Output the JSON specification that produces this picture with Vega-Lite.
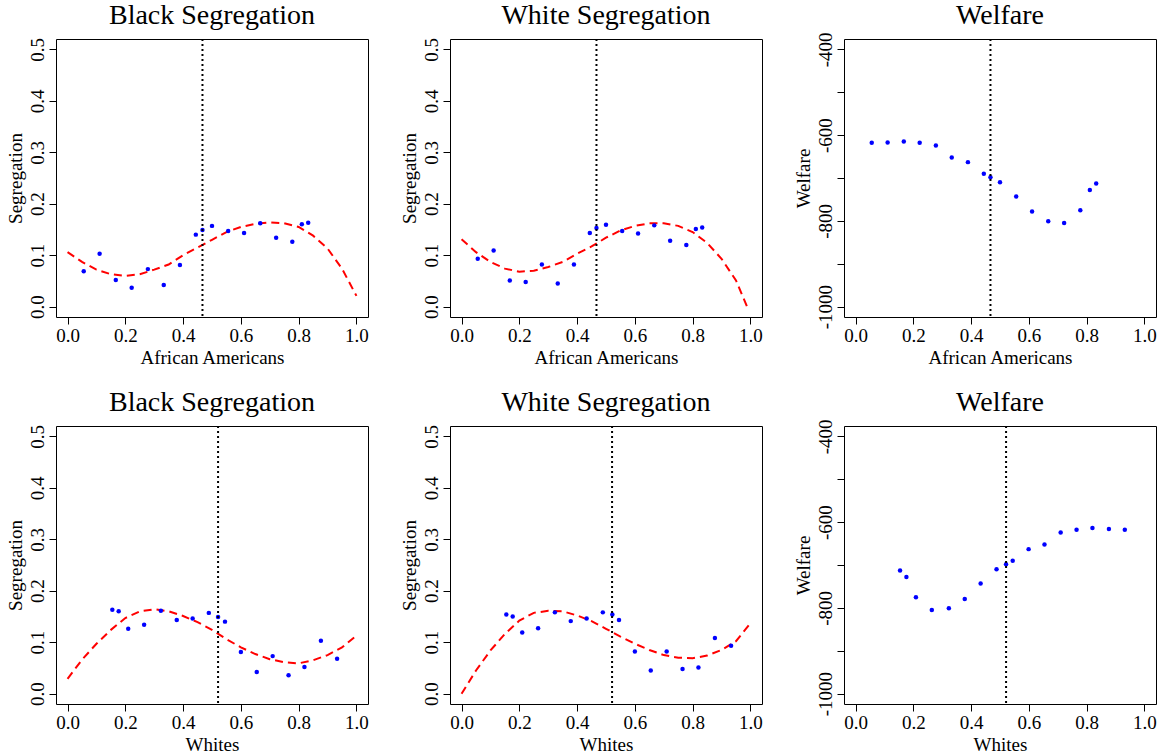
{
  "$schema": "https://vega.github.io/schema/vega-lite/v6.json",
  "background": "white",
  "padding": {"left": 5, "top": 1, "right": 4, "bottom": 0},
  "bounds": "flush",
  "columns": 3,
  "spacing": {"row": 109, "column": 82},
  "datasets": {
    "points": [
      {"p": 1, "x": 0.056, "y": 0.069}, {"p": 1, "x": 0.111, "y": 0.103}, {"p": 1, "x": 0.167, "y": 0.052}, {"p": 1, "x": 0.222, "y": 0.037}, {"p": 1, "x": 0.278, "y": 0.073}, {"p": 1, "x": 0.333, "y": 0.042}, {"p": 1, "x": 0.389, "y": 0.081}, {"p": 1, "x": 0.444, "y": 0.140}, {"p": 1, "x": 0.467, "y": 0.149}, {"p": 1, "x": 0.500, "y": 0.157}, {"p": 1, "x": 0.556, "y": 0.147}, {"p": 1, "x": 0.611, "y": 0.143}, {"p": 1, "x": 0.667, "y": 0.162}, {"p": 1, "x": 0.722, "y": 0.134}, {"p": 1, "x": 0.778, "y": 0.126}, {"p": 1, "x": 0.811, "y": 0.160}, {"p": 1, "x": 0.833, "y": 0.163},
      {"p": 2, "x": 0.056, "y": 0.093}, {"p": 2, "x": 0.111, "y": 0.109}, {"p": 2, "x": 0.167, "y": 0.051}, {"p": 2, "x": 0.222, "y": 0.048}, {"p": 2, "x": 0.278, "y": 0.082}, {"p": 2, "x": 0.333, "y": 0.045}, {"p": 2, "x": 0.389, "y": 0.082}, {"p": 2, "x": 0.444, "y": 0.143}, {"p": 2, "x": 0.467, "y": 0.153}, {"p": 2, "x": 0.500, "y": 0.159}, {"p": 2, "x": 0.556, "y": 0.147}, {"p": 2, "x": 0.611, "y": 0.142}, {"p": 2, "x": 0.667, "y": 0.158}, {"p": 2, "x": 0.722, "y": 0.128}, {"p": 2, "x": 0.778, "y": 0.120}, {"p": 2, "x": 0.811, "y": 0.151}, {"p": 2, "x": 0.833, "y": 0.154},
      {"p": 3, "x": 0.056, "y": -618}, {"p": 3, "x": 0.111, "y": -617}, {"p": 3, "x": 0.167, "y": -615}, {"p": 3, "x": 0.222, "y": -618}, {"p": 3, "x": 0.278, "y": -624}, {"p": 3, "x": 0.333, "y": -652}, {"p": 3, "x": 0.389, "y": -663}, {"p": 3, "x": 0.444, "y": -690}, {"p": 3, "x": 0.467, "y": -698}, {"p": 3, "x": 0.500, "y": -710}, {"p": 3, "x": 0.556, "y": -743}, {"p": 3, "x": 0.611, "y": -778}, {"p": 3, "x": 0.667, "y": -801}, {"p": 3, "x": 0.722, "y": -805}, {"p": 3, "x": 0.778, "y": -775}, {"p": 3, "x": 0.811, "y": -728}, {"p": 3, "x": 0.833, "y": -713},
      {"p": 4, "x": 0.155, "y": 0.163}, {"p": 4, "x": 0.177, "y": 0.160}, {"p": 4, "x": 0.210, "y": 0.126}, {"p": 4, "x": 0.265, "y": 0.134}, {"p": 4, "x": 0.323, "y": 0.161}, {"p": 4, "x": 0.378, "y": 0.143}, {"p": 4, "x": 0.433, "y": 0.146}, {"p": 4, "x": 0.489, "y": 0.157}, {"p": 4, "x": 0.521, "y": 0.149}, {"p": 4, "x": 0.545, "y": 0.140}, {"p": 4, "x": 0.600, "y": 0.081}, {"p": 4, "x": 0.655, "y": 0.042}, {"p": 4, "x": 0.710, "y": 0.073}, {"p": 4, "x": 0.765, "y": 0.036}, {"p": 4, "x": 0.820, "y": 0.052}, {"p": 4, "x": 0.877, "y": 0.103}, {"p": 4, "x": 0.933, "y": 0.068},
      {"p": 5, "x": 0.155, "y": 0.154}, {"p": 5, "x": 0.177, "y": 0.150}, {"p": 5, "x": 0.210, "y": 0.119}, {"p": 5, "x": 0.265, "y": 0.127}, {"p": 5, "x": 0.323, "y": 0.158}, {"p": 5, "x": 0.378, "y": 0.141}, {"p": 5, "x": 0.433, "y": 0.146}, {"p": 5, "x": 0.489, "y": 0.158}, {"p": 5, "x": 0.522, "y": 0.154}, {"p": 5, "x": 0.545, "y": 0.143}, {"p": 5, "x": 0.600, "y": 0.082}, {"p": 5, "x": 0.655, "y": 0.045}, {"p": 5, "x": 0.710, "y": 0.082}, {"p": 5, "x": 0.765, "y": 0.048}, {"p": 5, "x": 0.820, "y": 0.051}, {"p": 5, "x": 0.877, "y": 0.108}, {"p": 5, "x": 0.933, "y": 0.093},
      {"p": 6, "x": 0.154, "y": -713}, {"p": 6, "x": 0.176, "y": -728}, {"p": 6, "x": 0.209, "y": -775}, {"p": 6, "x": 0.264, "y": -805}, {"p": 6, "x": 0.323, "y": -801}, {"p": 6, "x": 0.378, "y": -779}, {"p": 6, "x": 0.433, "y": -743}, {"p": 6, "x": 0.488, "y": -710}, {"p": 6, "x": 0.521, "y": -698}, {"p": 6, "x": 0.544, "y": -690}, {"p": 6, "x": 0.599, "y": -663}, {"p": 6, "x": 0.654, "y": -652}, {"p": 6, "x": 0.710, "y": -624}, {"p": 6, "x": 0.765, "y": -618}, {"p": 6, "x": 0.820, "y": -614}, {"p": 6, "x": 0.877, "y": -616}, {"p": 6, "x": 0.932, "y": -618}
    ],
    "curves": [
      {"p": 1, "x": 0.00, "y": 0.106}, {"p": 1, "x": 0.05, "y": 0.087}, {"p": 1, "x": 0.10, "y": 0.072}, {"p": 1, "x": 0.15, "y": 0.063}, {"p": 1, "x": 0.20, "y": 0.060}, {"p": 1, "x": 0.25, "y": 0.063}, {"p": 1, "x": 0.30, "y": 0.072}, {"p": 1, "x": 0.35, "y": 0.082}, {"p": 1, "x": 0.40, "y": 0.100}, {"p": 1, "x": 0.45, "y": 0.115}, {"p": 1, "x": 0.50, "y": 0.130}, {"p": 1, "x": 0.55, "y": 0.145}, {"p": 1, "x": 0.60, "y": 0.155}, {"p": 1, "x": 0.65, "y": 0.161}, {"p": 1, "x": 0.70, "y": 0.164}, {"p": 1, "x": 0.75, "y": 0.162}, {"p": 1, "x": 0.80, "y": 0.155}, {"p": 1, "x": 0.85, "y": 0.138}, {"p": 1, "x": 0.90, "y": 0.113}, {"p": 1, "x": 0.95, "y": 0.074}, {"p": 1, "x": 1.00, "y": 0.021},
      {"p": 2, "x": 0.00, "y": 0.131}, {"p": 2, "x": 0.05, "y": 0.106}, {"p": 2, "x": 0.10, "y": 0.087}, {"p": 2, "x": 0.15, "y": 0.074}, {"p": 2, "x": 0.20, "y": 0.068}, {"p": 2, "x": 0.25, "y": 0.070}, {"p": 2, "x": 0.30, "y": 0.077}, {"p": 2, "x": 0.35, "y": 0.087}, {"p": 2, "x": 0.40, "y": 0.103}, {"p": 2, "x": 0.45, "y": 0.117}, {"p": 2, "x": 0.50, "y": 0.134}, {"p": 2, "x": 0.55, "y": 0.148}, {"p": 2, "x": 0.60, "y": 0.157}, {"p": 2, "x": 0.65, "y": 0.162}, {"p": 2, "x": 0.70, "y": 0.162}, {"p": 2, "x": 0.75, "y": 0.157}, {"p": 2, "x": 0.80, "y": 0.145}, {"p": 2, "x": 0.85, "y": 0.124}, {"p": 2, "x": 0.90, "y": 0.093}, {"p": 2, "x": 0.95, "y": 0.051}, {"p": 2, "x": 0.99, "y": -0.002},
      {"p": 4, "x": 0.00, "y": 0.029}, {"p": 4, "x": 0.05, "y": 0.066}, {"p": 4, "x": 0.10, "y": 0.097}, {"p": 4, "x": 0.15, "y": 0.124}, {"p": 4, "x": 0.20, "y": 0.147}, {"p": 4, "x": 0.25, "y": 0.160}, {"p": 4, "x": 0.30, "y": 0.164}, {"p": 4, "x": 0.35, "y": 0.160}, {"p": 4, "x": 0.40, "y": 0.151}, {"p": 4, "x": 0.45, "y": 0.139}, {"p": 4, "x": 0.50, "y": 0.124}, {"p": 4, "x": 0.55, "y": 0.106}, {"p": 4, "x": 0.60, "y": 0.090}, {"p": 4, "x": 0.65, "y": 0.077}, {"p": 4, "x": 0.70, "y": 0.067}, {"p": 4, "x": 0.75, "y": 0.061}, {"p": 4, "x": 0.80, "y": 0.059}, {"p": 4, "x": 0.85, "y": 0.065}, {"p": 4, "x": 0.90, "y": 0.075}, {"p": 4, "x": 0.95, "y": 0.090}, {"p": 4, "x": 1.00, "y": 0.113},
      {"p": 5, "x": 0.00, "y": 0.000}, {"p": 5, "x": 0.05, "y": 0.045}, {"p": 5, "x": 0.10, "y": 0.084}, {"p": 5, "x": 0.15, "y": 0.116}, {"p": 5, "x": 0.20, "y": 0.142}, {"p": 5, "x": 0.25, "y": 0.157}, {"p": 5, "x": 0.30, "y": 0.161}, {"p": 5, "x": 0.35, "y": 0.160}, {"p": 5, "x": 0.40, "y": 0.152}, {"p": 5, "x": 0.45, "y": 0.141}, {"p": 5, "x": 0.50, "y": 0.126}, {"p": 5, "x": 0.55, "y": 0.111}, {"p": 5, "x": 0.60, "y": 0.097}, {"p": 5, "x": 0.65, "y": 0.085}, {"p": 5, "x": 0.70, "y": 0.075}, {"p": 5, "x": 0.75, "y": 0.070}, {"p": 5, "x": 0.80, "y": 0.069}, {"p": 5, "x": 0.85, "y": 0.074}, {"p": 5, "x": 0.90, "y": 0.085}, {"p": 5, "x": 0.95, "y": 0.102}, {"p": 5, "x": 1.00, "y": 0.137}
    ],
    "cutoffs": [
      {"p": 1, "x": 0.467}, {"p": 2, "x": 0.467}, {"p": 3, "x": 0.467},
      {"p": 4, "x": 0.521}, {"p": 5, "x": 0.521}, {"p": 6, "x": 0.521}
    ]
  },
  "config": {
    "view": {"stroke": "black", "strokeWidth": 1},
    "font": "Liberation Serif",
    "style": {
      "guide-label": {"font": "Liberation Serif", "fontSize": 19, "fill": "black"},
      "guide-title": {"font": "Liberation Serif", "fontSize": 19, "fill": "black", "fontWeight": "normal"},
      "group-title": {"font": "Liberation Serif", "fontSize": 28, "fill": "black", "fontWeight": "normal"}
    },
    "title": {"font": "Liberation Serif", "fontSize": 28, "fontWeight": "normal", "color": "black"},
    "axis": {"labelFont": "Liberation Serif", "titleFont": "Liberation Serif", "labelFontSize": 19, "titleFontSize": 19, "titleFontWeight": "normal", "labelColor": "black", "titleColor": "black", "tickColor": "black", "tickSize": 7, "domain": false, "grid": false, "labelPadding": 2, "titlePadding": 3, "labelOverlap": false, "labelFlush": false},
    "axisY": {"labelAngle": -90, "labelAlign": "center", "labelBaseline": "bottom"}
  },
  "concat": [
    {
      "width": 312, "height": 278, "title": {"text": "Black Segregation", "offset": 7},
      "layer": [
        {"data": {"name": "curves"}, "transform": [{"filter": "datum.p == 1"}], "mark": {"type": "line", "color": "#ff0000", "strokeWidth": 2, "strokeDash": [8, 5]},
         "encoding": {"x": {"field": "x", "type": "quantitative", "scale": {"domain": [-0.04, 1.04], "nice": false, "zero": false}, "axis": {"values": [0, 0.2, 0.4, 0.6, 0.8, 1], "format": ".1f", "title": "African Americans", "labelFont": "Liberation Serif", "labelFontSize": 19}},
                      "y": {"field": "y", "type": "quantitative", "scale": {"domain": [-0.02, 0.52], "nice": false, "zero": false}, "axis": {"values": [0, 0.1, 0.2, 0.3, 0.4, 0.5], "format": ".1f", "title": "Segregation", "labelFont": "Liberation Serif", "labelFontSize": 19}}}},
        {"data": {"name": "points"}, "transform": [{"filter": "datum.p == 1"}], "mark": {"type": "circle", "color": "#0000ff", "size": 20, "opacity": 1},
         "encoding": {"x": {"field": "x", "type": "quantitative"}, "y": {"field": "y", "type": "quantitative"}}},
        {"data": {"name": "cutoffs"}, "transform": [{"filter": "datum.p == 1"}], "mark": {"type": "rule", "color": "black", "strokeWidth": 2, "strokeDash": [2, 3]},
         "encoding": {"x": {"field": "x", "type": "quantitative"}}}
      ]
    },
    {
      "width": 312, "height": 278, "title": {"text": "White Segregation", "offset": 7},
      "layer": [
        {"data": {"name": "curves"}, "transform": [{"filter": "datum.p == 2"}], "mark": {"type": "line", "color": "#ff0000", "strokeWidth": 2, "strokeDash": [8, 5]},
         "encoding": {"x": {"field": "x", "type": "quantitative", "scale": {"domain": [-0.04, 1.04], "nice": false, "zero": false}, "axis": {"values": [0, 0.2, 0.4, 0.6, 0.8, 1], "format": ".1f", "title": "African Americans", "labelFont": "Liberation Serif", "labelFontSize": 19}},
                      "y": {"field": "y", "type": "quantitative", "scale": {"domain": [-0.02, 0.52], "nice": false, "zero": false}, "axis": {"values": [0, 0.1, 0.2, 0.3, 0.4, 0.5], "format": ".1f", "title": "Segregation", "labelFont": "Liberation Serif", "labelFontSize": 19}}}},
        {"data": {"name": "points"}, "transform": [{"filter": "datum.p == 2"}], "mark": {"type": "circle", "color": "#0000ff", "size": 20, "opacity": 1},
         "encoding": {"x": {"field": "x", "type": "quantitative"}, "y": {"field": "y", "type": "quantitative"}}},
        {"data": {"name": "cutoffs"}, "transform": [{"filter": "datum.p == 2"}], "mark": {"type": "rule", "color": "black", "strokeWidth": 2, "strokeDash": [2, 3]},
         "encoding": {"x": {"field": "x", "type": "quantitative"}}}
      ]
    },
    {
      "width": 312, "height": 278, "title": {"text": "Welfare", "offset": 1.6},
      "layer": [
        {"data": {"name": "points"}, "transform": [{"filter": "datum.p == 3"}], "mark": {"type": "circle", "color": "#0000ff", "size": 20, "opacity": 1},
         "encoding": {"x": {"field": "x", "type": "quantitative", "scale": {"domain": [-0.04, 1.04], "nice": false, "zero": false}, "axis": {"values": [0, 0.2, 0.4, 0.6, 0.8, 1], "format": ".1f", "title": "African Americans", "labelFont": "Liberation Serif", "labelFontSize": 19}},
                      "y": {"field": "y", "type": "quantitative", "scale": {"domain": [-1024, -376], "nice": false, "zero": false}, "axis": {"values": [-1000, -900, -800, -700, -600, -500, -400], "labelExpr": "datum.value % 200 == 0 ? '' + datum.value : ''", "title": "Welfare", "labelFont": "Liberation Serif", "labelFontSize": 19}}}},
        {"data": {"name": "cutoffs"}, "transform": [{"filter": "datum.p == 3"}], "mark": {"type": "rule", "color": "black", "strokeWidth": 2, "strokeDash": [2, 3]},
         "encoding": {"x": {"field": "x", "type": "quantitative"}}}
      ]
    },
    {
      "width": 312, "height": 278, "title": {"text": "Black Segregation", "offset": 7},
      "layer": [
        {"data": {"name": "curves"}, "transform": [{"filter": "datum.p == 4"}], "mark": {"type": "line", "color": "#ff0000", "strokeWidth": 2, "strokeDash": [8, 5]},
         "encoding": {"x": {"field": "x", "type": "quantitative", "scale": {"domain": [-0.04, 1.04], "nice": false, "zero": false}, "axis": {"values": [0, 0.2, 0.4, 0.6, 0.8, 1], "format": ".1f", "title": "Whites", "labelFont": "Liberation Serif", "labelFontSize": 19}},
                      "y": {"field": "y", "type": "quantitative", "scale": {"domain": [-0.02, 0.52], "nice": false, "zero": false}, "axis": {"values": [0, 0.1, 0.2, 0.3, 0.4, 0.5], "format": ".1f", "title": "Segregation", "labelFont": "Liberation Serif", "labelFontSize": 19}}}},
        {"data": {"name": "points"}, "transform": [{"filter": "datum.p == 4"}], "mark": {"type": "circle", "color": "#0000ff", "size": 20, "opacity": 1},
         "encoding": {"x": {"field": "x", "type": "quantitative"}, "y": {"field": "y", "type": "quantitative"}}},
        {"data": {"name": "cutoffs"}, "transform": [{"filter": "datum.p == 4"}], "mark": {"type": "rule", "color": "black", "strokeWidth": 2, "strokeDash": [2, 3]},
         "encoding": {"x": {"field": "x", "type": "quantitative"}}}
      ]
    },
    {
      "width": 312, "height": 278, "title": {"text": "White Segregation", "offset": 7},
      "layer": [
        {"data": {"name": "curves"}, "transform": [{"filter": "datum.p == 5"}], "mark": {"type": "line", "color": "#ff0000", "strokeWidth": 2, "strokeDash": [8, 5]},
         "encoding": {"x": {"field": "x", "type": "quantitative", "scale": {"domain": [-0.04, 1.04], "nice": false, "zero": false}, "axis": {"values": [0, 0.2, 0.4, 0.6, 0.8, 1], "format": ".1f", "title": "Whites", "labelFont": "Liberation Serif", "labelFontSize": 19}},
                      "y": {"field": "y", "type": "quantitative", "scale": {"domain": [-0.02, 0.52], "nice": false, "zero": false}, "axis": {"values": [0, 0.1, 0.2, 0.3, 0.4, 0.5], "format": ".1f", "title": "Segregation", "labelFont": "Liberation Serif", "labelFontSize": 19}}}},
        {"data": {"name": "points"}, "transform": [{"filter": "datum.p == 5"}], "mark": {"type": "circle", "color": "#0000ff", "size": 20, "opacity": 1},
         "encoding": {"x": {"field": "x", "type": "quantitative"}, "y": {"field": "y", "type": "quantitative"}}},
        {"data": {"name": "cutoffs"}, "transform": [{"filter": "datum.p == 5"}], "mark": {"type": "rule", "color": "black", "strokeWidth": 2, "strokeDash": [2, 3]},
         "encoding": {"x": {"field": "x", "type": "quantitative"}}}
      ]
    },
    {
      "width": 312, "height": 278, "title": {"text": "Welfare", "offset": 1.6},
      "layer": [
        {"data": {"name": "points"}, "transform": [{"filter": "datum.p == 6"}], "mark": {"type": "circle", "color": "#0000ff", "size": 20, "opacity": 1},
         "encoding": {"x": {"field": "x", "type": "quantitative", "scale": {"domain": [-0.04, 1.04], "nice": false, "zero": false}, "axis": {"values": [0, 0.2, 0.4, 0.6, 0.8, 1], "format": ".1f", "title": "Whites", "labelFont": "Liberation Serif", "labelFontSize": 19}},
                      "y": {"field": "y", "type": "quantitative", "scale": {"domain": [-1024, -376], "nice": false, "zero": false}, "axis": {"values": [-1000, -900, -800, -700, -600, -500, -400], "labelExpr": "datum.value % 200 == 0 ? '' + datum.value : ''", "title": "Welfare", "labelFont": "Liberation Serif", "labelFontSize": 19}}}},
        {"data": {"name": "cutoffs"}, "transform": [{"filter": "datum.p == 6"}], "mark": {"type": "rule", "color": "black", "strokeWidth": 2, "strokeDash": [2, 3]},
         "encoding": {"x": {"field": "x", "type": "quantitative"}}}
      ]
    }
  ]
}
